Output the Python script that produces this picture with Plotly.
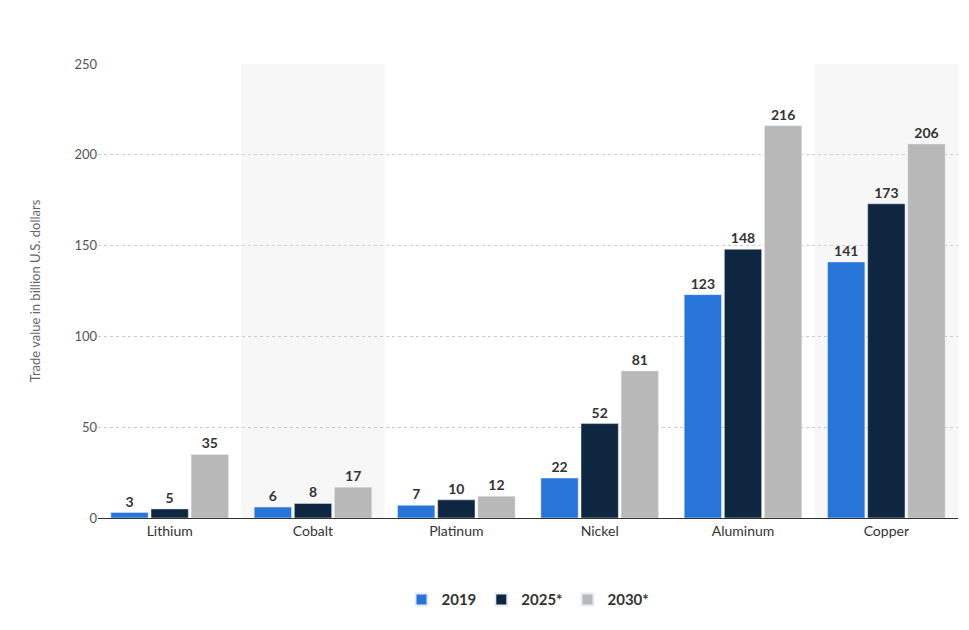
import plotly.graph_objects as go

categories = ["Lithium", "Cobalt", "Platinum", "Nickel", "Aluminum", "Copper"]
v2019 = [3, 6, 7, 22, 123, 141]
v2025 = [5, 8, 10, 52, 148, 173]
v2030 = [35, 17, 12, 81, 216, 206]
series = [("2019", v2019, "#2775d8"), ("2025*", v2025, "#0f2640"), ("2030*", v2030, "#b8b8b8")]

fig = go.Figure()
for name, vals, col in series:
    fig.add_trace(go.Bar(x=categories, y=vals, name=name, marker_color=col,
                         text=[str(v) for v in vals], textposition="outside",
                         textfont=dict(family="Lato", size=14, color="#333333", weight="bold"),
                         cliponaxis=False))

shapes = []
for i in (1, 5):
    shapes.append(dict(type="rect", xref="x", yref="paper", x0=i - 0.5, x1=i + 0.5, y0=0, y1=1,
                       fillcolor="#f7f7f7", line_width=0, layer="below"))

fig.update_layout(
    width=969, height=630, barmode="group", bargap=0.16, bargroupgap=0.07,
    plot_bgcolor="white", paper_bgcolor="white", shapes=shapes,
    margin=dict(l=90, r=19, t=56, b=120),
    font=dict(family="Lato", color="#333333"),
    xaxis=dict(tickfont=dict(size=14, color="#333333"), showline=True, linecolor="#333333",
               linewidth=1, ticks=""),
    yaxis=dict(range=[0, 250], dtick=50, gridcolor="#cccccc", griddash="dot",
               tickfont=dict(size=13, color="#555555"), zeroline=False,
               title=dict(text="Trade value in billion U.S. dollars",
                          font=dict(size=13, color="#666666"), standoff=30)),
    legend=dict(orientation="h", x=0.5, xanchor="center", y=-0.18, yanchor="middle",
                font=dict(size=15, color="#333333", weight="bold"), itemsizing="constant"),
)
fig.write_html("out.html")
